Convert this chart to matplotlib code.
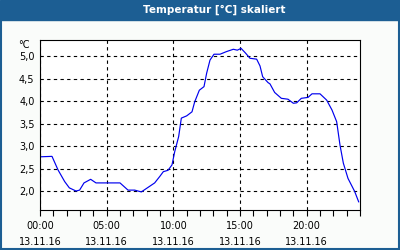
import matplotlib
matplotlib.use("Agg")
import matplotlib.pyplot as plt
from matplotlib.patches import Rectangle

title = "Temperatur [°C] skaliert"
unit = "°C"
hours = [0.0, 0.9, 1.35, 1.85, 2.2, 2.7, 2.97, 3.3, 3.8, 4.2, 6.0, 6.6, 7.1, 7.6, 8.1, 8.6,
         9.0, 9.25, 9.6, 9.9, 10.1, 10.4, 10.6, 11.0, 11.4, 11.6, 11.95, 12.3, 12.5, 12.75,
         13.05, 13.5, 14.0, 14.5, 14.8, 15.08, 15.4, 15.75, 16.25, 16.5, 16.7, 17.1, 17.25,
         17.6, 18.1, 18.6, 19.0, 19.25, 19.6, 20.1, 20.4, 21.0, 21.5, 21.9, 22.25, 22.5,
         22.75, 23.1, 23.6, 23.9]
temps = [2.76, 2.77, 2.47, 2.21, 2.07, 2.0, 2.02, 2.18, 2.26, 2.18, 2.18, 2.02, 2.02, 1.98, 2.08, 2.18,
         2.33, 2.43, 2.46, 2.58, 2.87, 3.21, 3.62, 3.67, 3.76, 3.98, 4.24, 4.32, 4.62, 4.91,
         5.04, 5.04, 5.10, 5.15, 5.13, 5.17, 5.07, 4.95, 4.93, 4.78, 4.54, 4.41, 4.38,
         4.19, 4.06, 4.04, 3.95, 3.96, 4.06, 4.08, 4.16, 4.16, 4.02, 3.80, 3.54, 3.02,
         2.62, 2.28, 1.99, 1.76]
xtick_hours = [0, 5, 10, 15, 20]
xtick_labels = ["00:00\n13.11.16", "05:00\n13.11.16", "10:00\n13.11.16", "15:00\n13.11.16", "20:00\n13.11.16"]
ytick_vals = [2.0, 2.5, 3.0, 3.5, 4.0, 4.5, 5.0]
ytick_labels = ["2,0", "2,5", "3,0", "3,5", "4,0", "4,5", "5,0"]

blue = "#1c5e93"
fig = plt.figure(figsize=(4, 2.5), dpi=100, facecolor="#fafcfa")
# title band and border
fig.patches.append(Rectangle((0, 0.92), 1, 0.08, transform=fig.transFigure, color=blue, zorder=0))
fig.patches.append(Rectangle((0.0015, 0.003), 0.9955, 0.92, transform=fig.transFigure,
                             fill=False, edgecolor=blue, linewidth=1.5, zorder=0))
fig.text(0.535, 0.96, title, color="white", fontsize=7.5, fontweight="bold",
         ha="center", va="center", family="DejaVu Sans")

ax = fig.add_axes([0.1, 0.16, 0.8, 0.68])
ax.set_facecolor("white")
ax.plot(hours, temps, color="#0000ee", linewidth=0.85)
ax.set_xlim(0, 24)
ax.set_ylim(1.578, 5.356)
ax.set_xticks(xtick_hours)
ax.set_xticklabels(xtick_labels, fontsize=7, linespacing=1.7)
ax.set_xticks(range(0, 25), minor=True)
ax.set_yticks(ytick_vals)
ax.set_yticklabels(ytick_labels, fontsize=7)
ax.tick_params(axis="x", which="both", direction="out", length=4, width=0.8, pad=4)
ax.tick_params(axis="y", length=0, pad=4)
ax.grid(True, which="major", color="black", linestyle=(0, (3, 3)), linewidth=0.8)
for s in ax.spines.values():
    s.set_linewidth(0.8)
fig.text(0.075, 0.82, unit, fontsize=7, ha="right", va="center")
fig.savefig("out.png", dpi=100, facecolor=fig.get_facecolor())
